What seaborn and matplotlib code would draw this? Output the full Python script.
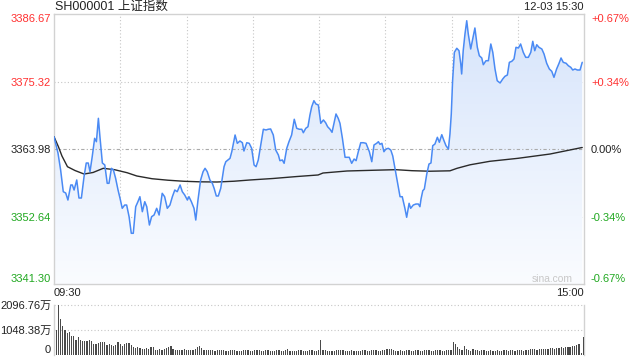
import numpy as np
import pandas as pd
import matplotlib
matplotlib.use("Agg")
import matplotlib.pyplot as plt
import seaborn as sns
from matplotlib.colors import LinearSegmentedColormap

sns.set_theme(style="white")
plt.rcParams["font.family"] = ["Liberation Sans", "Noto Sans CJK SC", "DejaVu Sans"]

# ---------------- data ----------------
title = "SH000001 上证指数"
stamp = "12-03 15:30"
prev_close = 3363.98
price_ticks = [3341.30, 3352.64, 3363.98, 3375.32, 3386.67]
pct_labels = ["-0.67%", "-0.34%", "0.00%", "+0.34%", "+0.67%"]
time_ticks = [0, 240]
time_labels = ["09:30", "15:00"]
vol_ticks = [0, 1048.38, 2096.76]
vol_labels = ["0", "1048.38万", "2096.76万"]

price_min = [0.0, 1.8, 3.0, 4.2, 5.3, 6.3, 7.6, 8.3, 9.1, 10.3, 11.3, 12.4, 13.6, 14.6, 15.5, 16.3, 17.3, 18.4, 19.2, 20.1,
             20.8, 21.9, 23.0, 24.1, 24.9, 26.0, 26.9, 27.9, 29.0, 29.9, 30.9, 32.0, 32.9, 34.0, 35.0, 35.9, 37.0, 38.0, 38.9, 40.0,
             41.1, 42.0, 43.2, 44.2, 45.3, 46.5, 47.6, 49.0, 50.1, 51.3, 52.5, 53.6, 54.7, 55.8, 57.1, 58.1, 59.2, 60.4, 61.1, 62.2,
             63.4, 64.2, 65.2, 66.4, 67.5, 68.4, 69.4, 70.6, 71.7, 72.5, 73.5, 74.4, 75.5, 77.0, 77.8, 78.8, 79.7, 80.5, 82.0, 83.0,
             84.2, 85.3, 86.0, 87.3, 88.4, 89.5, 90.6, 91.5, 92.5, 93.6, 94.8, 96.0, 97.0, 98.1, 99.3, 100.4, 101.6, 102.3, 103.4, 104.2,
             105.4, 106.4, 107.6, 108.8, 109.9, 111.1, 112.2, 112.9, 114.0, 115.0, 115.9, 116.7, 117.7, 118.6, 119.7, 120.8, 122.0, 123.0, 123.9, 125.0,
             125.9, 126.8, 127.7, 128.7, 129.5, 130.6, 131.8, 132.8, 133.7, 134.8, 135.9, 136.8, 137.8, 138.9, 140.1, 141.3, 142.8, 143.9, 144.9, 146.1,
             146.9, 147.6, 148.5, 149.4, 150.3, 151.4, 152.5, 153.4, 154.4, 155.6, 156.7, 157.7, 158.9, 159.7, 160.8, 161.5, 162.7, 163.9, 165.0, 165.7,
             166.2, 167.0, 167.7, 168.8, 169.8, 170.7, 171.5, 172.5, 173.6, 174.5, 175.6, 176.6, 177.5, 178.6, 179.3, 179.9, 180.5, 181.3, 182.4, 183.4,
             184.2, 184.6, 185.3, 186.1, 186.9, 187.6, 188.7, 189.6, 190.6, 191.7, 192.6, 193.7, 194.4, 195.6, 196.7, 197.8, 198.7, 199.7, 200.7, 202.0,
             203.2, 204.2, 205.3, 206.2, 207.3, 208.3, 209.2, 210.3, 211.3, 212.5, 213.6, 214.8, 215.9, 216.8, 217.7, 218.6, 219.6, 220.9, 221.9, 223.1,
             224.3, 225.4, 226.4, 227.6, 228.7, 229.6, 230.6, 231.9, 232.9, 234.0, 234.9, 235.9, 237.0, 238.2, 239.2]
price = [3366.05, 3363.31, 3360.46, 3356.81, 3356.59, 3355.41, 3357.94, 3357.94, 3357.09, 3358.78, 3355.75, 3355.75, 3359.33, 3361.63, 3361.63, 3360.17, 3362.69, 3365.78, 3365.21, 3369.14,
         3366.05, 3361.63, 3361.30, 3358.22, 3358.22, 3360.74, 3360.46, 3359.06, 3357.09, 3355.70, 3354.02, 3354.57, 3354.57, 3352.61, 3349.82, 3349.82, 3354.29, 3355.13, 3355.97, 3353.45,
         3355.13, 3354.29, 3351.21, 3352.61, 3352.89, 3354.02, 3352.89, 3356.54, 3355.97, 3354.02, 3354.57, 3355.97, 3357.09, 3356.81, 3357.94, 3356.81, 3356.25, 3355.41, 3355.97, 3355.13,
         3354.02, 3352.05, 3355.41, 3358.78, 3360.17, 3360.74, 3360.17, 3358.78, 3358.22, 3357.38, 3356.09, 3356.09, 3357.38, 3361.01, 3361.85, 3362.14, 3362.42, 3363.53, 3366.34, 3364.94,
         3365.33, 3365.04, 3363.65, 3365.04, 3364.94, 3364.10, 3361.30, 3361.01, 3362.14, 3364.66, 3367.30, 3367.18, 3367.30, 3367.35, 3366.34, 3363.82, 3362.98, 3362.02, 3362.14, 3361.58,
         3364.10, 3365.21, 3366.34, 3368.98, 3367.46, 3367.30, 3367.30, 3366.72, 3367.46, 3367.73, 3369.70, 3371.09, 3372.10, 3371.55, 3371.38, 3368.30, 3368.86, 3368.40, 3367.73, 3367.30,
         3366.79, 3368.30, 3369.87, 3369.14, 3368.30, 3365.78, 3362.59, 3362.59, 3362.59, 3361.58, 3362.30, 3362.02, 3363.53, 3365.04, 3365.04, 3364.94, 3363.53, 3361.85, 3364.66, 3364.94,
         3365.21, 3364.77, 3364.94, 3363.53, 3363.98, 3364.10, 3363.82, 3362.81, 3360.74, 3358.22, 3355.97, 3355.97, 3354.02, 3352.51, 3354.86, 3354.02, 3354.57, 3354.74, 3354.74, 3354.29,
         3355.58, 3356.98, 3357.26, 3359.78, 3361.46, 3361.63, 3364.54, 3364.82, 3365.95, 3365.11, 3366.39, 3365.38, 3364.54, 3363.98, 3366.51, 3369.87, 3375.46, 3380.23, 3380.91, 3380.50,
         3378.27, 3376.59, 3380.50, 3383.31, 3385.54, 3383.31, 3380.79, 3382.47, 3384.32, 3381.07, 3379.66, 3379.28, 3378.15, 3378.82, 3378.82, 3381.63, 3380.23, 3377.43, 3375.46, 3375.08,
         3375.75, 3376.20, 3376.42, 3378.55, 3378.72, 3379.11, 3381.07, 3380.96, 3381.63, 3380.23, 3379.39, 3379.39, 3380.23, 3382.08, 3380.50, 3381.51, 3381.07, 3380.79, 3379.95, 3378.39,
         3377.43, 3377.04, 3376.03, 3377.43, 3378.39, 3379.28, 3378.55, 3378.39, 3377.98, 3377.71, 3377.26, 3377.43, 3377.26, 3377.26, 3378.55]

avg_min = [0.0, 2.0, 3.6, 6.1, 9.5, 13.6, 17.7, 22.3, 27.4, 33.1, 37.5, 44.4, 51.6, 58.9, 66.1, 73.8, 81.5, 88.8, 99.2, 110.0,
           119.6, 121.8, 132.7, 145.4, 154.9, 162.1, 170.3, 179.3, 182.5, 188.4, 197.4, 210.1, 224.6, 239.2]
avg_price = [3366.05, 3364.37, 3362.81, 3361.01, 3360.37, 3359.78, 3360.04, 3360.74, 3360.51, 3360.00, 3359.45, 3358.99, 3358.74, 3358.56, 3358.47, 3358.44, 3358.57, 3358.78, 3359.03, 3359.36,
             3359.62, 3359.95, 3360.29, 3360.42, 3360.51, 3360.34, 3360.25, 3360.32, 3360.74, 3361.33, 3361.92, 3362.42, 3363.14, 3364.24]

vol_min = list(range(1, 241))
volume = [1061, 2097, 1522, 1229, 1061, 923, 952, 809, 784, 642, 742, 642, 600, 575, 600, 617, 600, 474, 474, 503,
          558, 533, 533, 419, 474, 432, 390, 407, 558, 449, 365, 474, 516, 503, 432, 323, 306, 323, 281, 252,
          252, 294, 264, 348, 323, 222, 222, 252, 222, 252, 281, 323, 365, 252, 222,
          210, 197, 222, 252, 210, 197, 222, 197, 252, 323, 365, 294, 222, 197, 222,
          210, 222, 181, 197, 222, 210, 197, 168, 181, 210, 222, 197, 168, 155, 181, 222, 210, 197, 181, 168,
          197, 222, 210, 181, 168, 197, 210, 181, 155, 168, 197, 222, 181, 168, 197, 239, 181, 168, 155, 181,
          197, 210, 181, 168, 181, 210, 197, 168, 181, 197,
          617, 222, 197,
          168, 155, 181, 168, 197, 210, 222, 197, 168, 155, 181, 197, 168, 181, 168, 155, 197, 210, 181, 168,
          197, 222, 197, 181, 168, 197, 210, 252, 264, 239, 222, 181, 168, 197, 181, 168, 197, 222, 181, 168,
          197, 210, 181, 168, 197, 222, 197, 181, 168, 197, 222, 197, 181, 168, 197, 210, 222,
          533, 474, 336, 239, 197, 390, 264, 210, 181, 252, 222, 197, 181, 210, 197, 168, 181, 197, 181, 168,
          197, 181, 168, 197, 210, 181, 197, 210, 181, 197, 222, 197, 181, 210, 222, 239, 264, 239, 222, 252,
          264, 252, 239, 264, 281, 294, 264, 294, 306, 323, 294, 323, 348, 323, 365, 390, 419, 461, 71, 768]

price_df = pd.DataFrame({"minute": price_min, "price": price})
avg_df = pd.DataFrame({"minute": avg_min, "avg": avg_price})
vol_df = pd.DataFrame({"minute": vol_min, "volume": volume})

# ---------------- styling ----------------
RED = "#ff3030"
GREEN = "#20a820"
TXT = "#222222"
GRID = "#c6c6c6"
SPINE = "#d2d2d2"
BLUE = "#4a8af4"

W, H = 640, 360
fig = plt.figure(figsize=(6.4, 3.6), dpi=100)
fig.patch.set_facecolor("white")

L, R = 54, 584
ax = fig.add_axes([L / W, 1 - 284 / H, (R - L) / W, 270 / H])
ymin, ymax = price_ticks[0], price_ticks[-1]
ax.set_xlim(0, 240)
ax.set_ylim(ymin, ymax)
ax.set_facecolor("white")

# gradient fill under the price line
poly = ax.fill_between(price_df["minute"], price_df["price"], ymin, color="none", lw=0)
cmap = LinearSegmentedColormap.from_list("g", ["#fafcff", "#d6e4fb"])
grad = np.linspace(0, 1, 256).reshape(-1, 1)
im = ax.imshow(grad, extent=[0, 240, ymin, ymax], origin="lower", aspect="auto",
               cmap=cmap, zorder=1)
im.set_clip_path(poly.get_paths()[0], transform=ax.transData)

# grid
for xm in range(30, 240, 30):
    ax.axvline(xm, color=GRID, lw=0.8, ls=(0, (1, 2)), zorder=0.5)
for yv in (price_ticks[1], price_ticks[3]):
    ax.axhline(yv, color=GRID, lw=0.8, ls=(0, (1, 2)), zorder=0.5)
ax.axhline(prev_close, color="#aaaaaa", lw=0.8, ls=(0, (3, 2, 1, 2)), zorder=2)

sns.lineplot(data=avg_df, x="minute", y="avg", ax=ax, color="#2a2a2a", lw=1.0, zorder=3)
sns.lineplot(data=price_df, x="minute", y="price", ax=ax, color=BLUE, lw=1.1, zorder=4)

for s in ax.spines.values():
    s.set_color(SPINE)
    s.set_linewidth(1.0)

ax.set_xlabel("")
ax.set_ylabel("")
ax.set_yticks(price_ticks)
ax.set_yticklabels([f"{v:.2f}" for v in price_ticks])
ax.tick_params(axis="y", length=0, pad=2, labelsize=8)
ycolors = [GREEN, GREEN, TXT, RED, RED]
for lab, c in zip(ax.get_yticklabels(), ycolors):
    lab.set_color(c)
ax.get_yticklabels()[0].set_va("bottom")
ax.get_yticklabels()[-1].set_va("top")

ax.set_xticks(time_ticks)
ax.set_xticklabels(time_labels)
ax.tick_params(axis="x", length=0, pad=3, labelsize=8, labelcolor=TXT)
xl = ax.get_xticklabels()
xl[0].set_ha("left")
xl[1].set_ha("right")

ax2 = ax.twinx()
ax2.set_ylim(ymin, ymax)
ax2.set_yticks(price_ticks)
ax2.set_yticklabels(pct_labels)
ax2.tick_params(axis="y", length=0, pad=5, labelsize=8)
for lab, c in zip(ax2.get_yticklabels(), ycolors):
    lab.set_color(c)
ax2.get_yticklabels()[0].set_va("bottom")
ax2.get_yticklabels()[-1].set_va("top")
for s in ax2.spines.values():
    s.set_visible(False)
ax2.grid(False)

ax.text(0.979, 0.02, "sina.com", transform=ax.transAxes, ha="right", va="center",
        fontsize=7.4, color="#c8c8c8", zorder=5)

# ---------------- volume panel ----------------
axv = fig.add_axes([L / W, 1 - 355 / H, (R - L) / W, 50 / H])
sns.barplot(data=vol_df, x="minute", y="volume", native_scale=True, color="#4a4a4a",
            saturation=1, width=0.55, linewidth=0, ax=axv, zorder=3)
axv.set_xlim(0, 240.3)
axv.set_ylim(0, vol_ticks[-1])
axv.set_xlabel("")
axv.set_ylabel("")
axv.set_xticks([])
for yv in vol_ticks[1:]:
    axv.axhline(yv, color=GRID, lw=0.8, ls=(0, (1, 2)), zorder=1, clip_on=False)
axv.spines["top"].set_visible(False)
axv.spines["bottom"].set_visible(False)
for side in ("left", "right"):
    axv.spines[side].set_color(SPINE)
    axv.spines[side].set_linewidth(1.0)
axv.set_yticks(vol_ticks)
axv.set_yticklabels(vol_labels)
axv.tick_params(axis="y", length=0, pad=2, labelsize=8, labelcolor=TXT)
axv.get_yticklabels()[0].set_va("bottom")

# ---------------- header ----------------
fig.text(55 / W, 1 - 7 / H, title, ha="left", va="center", fontsize=9, color=TXT)
fig.text(584 / W, 1 - 7 / H, stamp, ha="right", va="center", fontsize=8, color=TXT)

fig.savefig("out.png", dpi=100, facecolor="white")
